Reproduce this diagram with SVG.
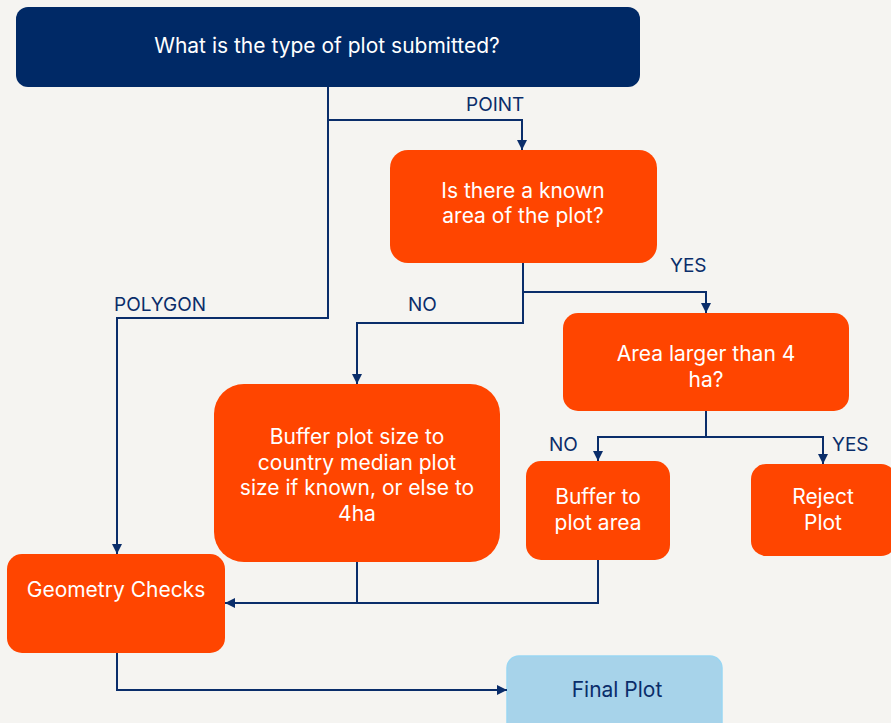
<svg xmlns="http://www.w3.org/2000/svg" width="891" height="723" viewBox="0 0 891 723">
<defs>
<marker id="arr" viewBox="0 0 10 10" refX="10" refY="5" markerWidth="10" markerHeight="10" markerUnits="userSpaceOnUse" orient="auto">
<path d="M0,0 L10,5 L0,10 z" fill="#0a2d6a"/>
</marker>
<style>
.box{fill:#ff4500;}
.wt{font-family:Inter,"Noto Sans",sans-serif;font-size:21px;fill:#ffffff;text-anchor:middle;}
.lbl{font-family:Inter,"Noto Sans",sans-serif;font-size:19px;fill:#0a2d6a;}
.ln{fill:none;stroke:#0a2d6a;stroke-width:2;}
</style>
</defs>
<rect x="0" y="0" width="891" height="723" fill="#f5f4f1"/>
<g id="n-type">
<rect x="16" y="7" width="624" height="80" rx="12" fill="#002966"/>
<text class="wt" x="327" y="53">What is the type of plot submitted?</text>
</g>
<g id="n-known">
<rect class="box" x="390" y="150" width="267" height="113" rx="18"/>
<text class="wt" x="523" y="198">Is there a known</text>
<text class="wt" x="523" y="223">area of the plot?</text>
</g>
<g id="n-larger">
<rect class="box" x="563" y="313" width="286" height="98" rx="15"/>
<text class="wt" x="706" y="361">Area larger than 4</text>
<text class="wt" x="706" y="387">ha?</text>
</g>
<g id="n-bufmed">
<rect class="box" x="214" y="384" width="286" height="178" rx="30"/>
<text class="wt" x="357" y="444">Buffer plot size to</text>
<text class="wt" x="357" y="470">country median plot</text>
<text class="wt" x="357" y="495">size if known, or else to</text>
<text class="wt" x="357" y="521">4ha</text>
</g>
<g id="n-bufarea">
<rect class="box" x="526" y="461" width="144" height="99" rx="15"/>
<text class="wt" x="598" y="504">Buffer to</text>
<text class="wt" x="598" y="530">plot area</text>
</g>
<g id="n-reject">
<rect class="box" x="751" y="464" width="145" height="92" rx="15"/>
<text class="wt" x="823" y="504">Reject</text>
<text class="wt" x="823" y="530">Plot</text>
</g>
<g id="n-geom">
<rect class="box" x="7" y="554" width="218" height="99" rx="15"/>
<text class="wt" x="116" y="597">Geometry Checks</text>
</g>
<g id="n-final">
<rect x="507" y="656" width="215" height="80" rx="12" fill="#a7d3ea" stroke="#9ad6f2" stroke-width="1.5"/>
<text x="617" y="697" font-family="Inter,'Noto Sans',sans-serif" font-size="21" fill="#0a2d6a" text-anchor="middle">Final Plot</text>
</g>
<g id="connectors">
<path class="ln" d="M328,87 V318 H117 V554" marker-end="url(#arr)"/>
<path class="ln" d="M328,120 H522 V150" marker-end="url(#arr)"/>
<path class="ln" d="M523,263 V292 H706 V313" marker-end="url(#arr)"/>
<path class="ln" d="M523,292 V323 H357 V384" marker-end="url(#arr)"/>
<path class="ln" d="M706,411 V437 H598 V461" marker-end="url(#arr)"/>
<path class="ln" d="M706,437 H823 V464" marker-end="url(#arr)"/>
<path class="ln" d="M357,562 V603"/>
<path class="ln" d="M598,560 V603 H225" marker-end="url(#arr)"/>
<path class="ln" d="M117,653 V690 H507" marker-end="url(#arr)"/>
</g>
<g id="labels">
<text class="lbl" x="466" y="111">POINT</text>
<text class="lbl" x="670" y="272">YES</text>
<text class="lbl" x="408" y="311">NO</text>
<text class="lbl" x="114" y="311">POLYGON</text>
<text class="lbl" x="549" y="451">NO</text>
<text class="lbl" x="832" y="451">YES</text>
</g>
</svg>
